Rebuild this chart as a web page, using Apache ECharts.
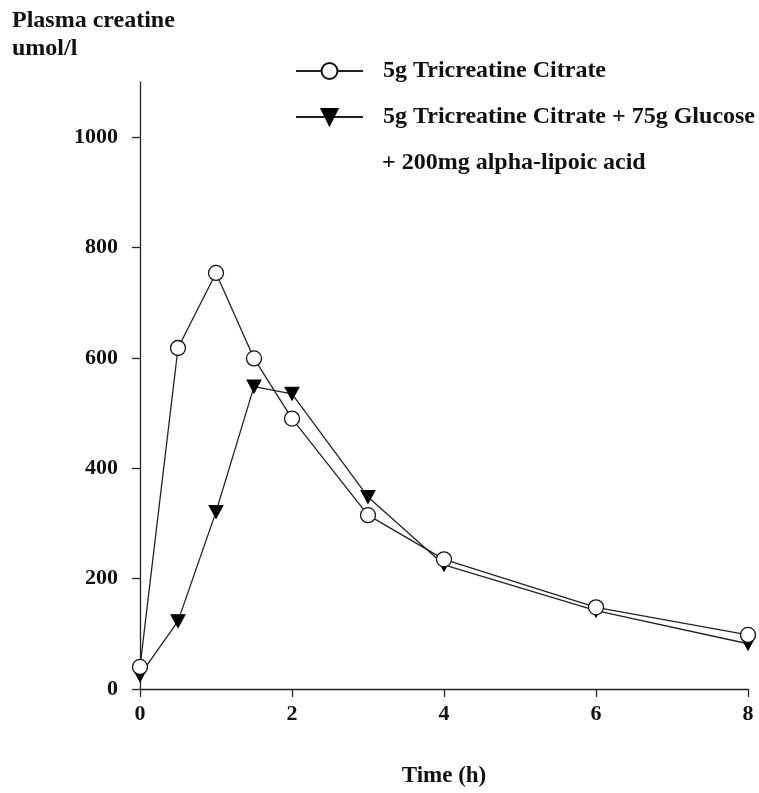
<!DOCTYPE html>
<html>
<head>
<meta charset="utf-8">
<script src="https://cdn.jsdelivr.net/npm/echarts@6/dist/echarts.min.js"></script>
<style>html,body{margin:0;padding:0;background:#fff;}#c{width:759px;height:793px;}</style>
</head>
<body>
<div id="c"></div>
<script>
var timeH = [0, 0.5, 1, 1.5, 2, 3, 4, 6, 8];
var tricreatine = [40, 618, 754, 599, 490, 315, 235, 148, 98];
var tricreatineGlucoseALA = [25, 123, 321, 548, 535, 348, 225, 142, 82];
var seriesNames = ['5g Tricreatine Citrate', '5g Tricreatine Citrate + 75g Glucose'];
var legendExtraLine = '+ 200mg alpha-lipoic acid';
var yTicks = [0, 200, 400, 600, 800, 1000];
var xTicks = [0, 2, 4, 6, 8];

var FONT = '"Liberation Serif", "Times New Roman", serif';
function pairs(xs, ys) { return xs.map(function (x, i) { return [x, ys[i]]; }); }

var chart = echarts.init(document.getElementById('c'));
chart.setOption({
  backgroundColor: '#fff',
  animation: false,
  title: {
    text: 'Plasma creatine\numol/l',
    left: 12, top: 7, padding: 0,
    textStyle: { fontFamily: FONT, fontWeight: 'bold', fontSize: 24, lineHeight: 28, color: '#111' }
  },
  legend: {
    orient: 'vertical',
    left: 295, top: 59, padding: 0,
    itemWidth: 67, itemHeight: 20, itemGap: 22,
    data: [seriesNames[0], seriesNames[1]],
    textStyle: { fontFamily: FONT, fontWeight: 'bold', fontSize: 24, lineHeight: 24, color: '#111', padding: [0, 0, 0, 15] }
  },
  graphic: [{
    type: 'text', left: 382, top: 151,
    style: { text: legendExtraLine, font: 'bold 24px ' + FONT, fill: '#111' }
  }],
  grid: { left: 140, right: 11, top: 82, bottom: 102 },
  xAxis: {
    type: 'value', min: 0, max: 8, interval: 2,
    name: 'Time (h)', nameLocation: 'middle', nameGap: 76,
    nameTextStyle: { fontFamily: FONT, fontWeight: 'bold', fontSize: 23, color: '#111' },
    axisLine: { lineStyle: { color: '#222', width: 1.3 } },
    axisTick: { show: true, length: 8, lineStyle: { color: '#222', width: 1.3 }, customValues: xTicks },
    axisLabel: { margin: 14, fontFamily: FONT, fontWeight: 'bold', fontSize: 22, color: '#111', customValues: xTicks, formatter: function (v) { return String(v); } },
    splitLine: { show: false }
  },
  yAxis: {
    type: 'value', min: 0, max: 1100, interval: 200,
    axisLine: { show: true, lineStyle: { color: '#222', width: 1.3 } },
    axisTick: { show: true, length: 8, lineStyle: { color: '#222', width: 1.3 }, customValues: yTicks },
    axisLabel: { margin: 22, fontFamily: FONT, fontWeight: 'bold', fontSize: 22, color: '#111', customValues: yTicks, formatter: function (v) { return String(v); } },
    splitLine: { show: false }
  },
  series: [
    {
      name: seriesNames[1], type: 'line',
      data: pairs(timeH, tricreatineGlucoseALA),
      symbol: 'triangle', symbolRotate: 180, symbolSize: [14, 13],
      lineStyle: { color: '#222', width: 1.3 },
      itemStyle: { color: '#000', borderColor: '#000', borderWidth: 1 },
      z: 2
    },
    {
      name: seriesNames[0], type: 'line',
      data: pairs(timeH, tricreatine),
      symbol: 'circle', symbolSize: 15,
      lineStyle: { color: '#222', width: 1.3 },
      itemStyle: { color: '#fff', borderColor: '#111', borderWidth: 1.3 },
      z: 3
    }
  ]
});
</script>
</body>
</html>
